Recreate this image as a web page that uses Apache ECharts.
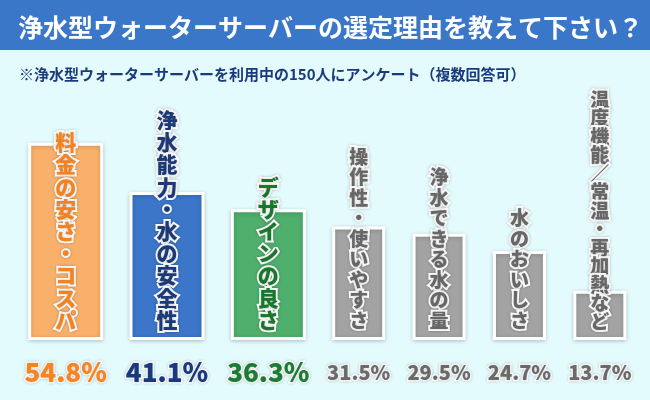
<!DOCTYPE html>
<html>
<head>
<meta charset="utf-8">
<script src="https://cdn.jsdelivr.net/npm/echarts@6/dist/echarts.min.js"></script>
<style>
html,body{margin:0;padding:0;background:#e3fbfd;}
#c{width:650px;height:400px;}
</style>
</head>
<body>
<div id="c"></div>
<script>
// ---- data ----
var titleText = '浄水型ウォーターサーバーの選定理由を教えて下さい？';
var subText = '※浄水型ウォーターサーバーを利用中の150人にアンケート（複数回答可）';
var topCategories = ['料金の安さ・コスパ', '浄水能力・水の安全性', 'デザインの良さ'];
var topValues = [54.8, 41.1, 36.3];
var otherCategories = ['操作性・使いやすさ', '浄水できる水の量', '水のおいしさ', '温度機能／常温・再加熱など'];
var otherValues = [31.5, 29.5, 24.7, 13.7];

// ---- styles ----
var FONT = '"Noto Sans CJK JP", "Noto Sans", sans-serif';
var topFill = ['#f9b06a', '#3b76c9', '#4faf6c'];
var topText = ['#f5821f', '#1c3a78', '#17782c'];
var grayFill = '#a3a3a3';
var grayText = '#676767';

function vertical(s) { return s.split('').join('\n'); }
function pct(v) { return v.toFixed(1) + '%'; }

var topData = topValues.map(function (v, i) {
  return {
    value: v,
    itemStyle: { color: topFill[i] },
    label: { color: topText[i] }
  };
});
var otherData = otherValues.map(function (v, i) {
  return {
    value: v,
    label: i === 3 ? { lineHeight: 18.5 } : {}
  };
});

var chart = echarts.init(document.getElementById('c'), null, { renderer: 'canvas' });
var barCommonItem = {
  borderColor: '#ffffff',
  borderWidth: 3,
  shadowBlur: 4,
  shadowColor: 'rgba(0,0,0,0.18)',
  shadowOffsetY: 1
};
var labelCommon = {
  show: true,
  position: 'insideBottom',
  distance: 9,
  fontFamily: FONT,
  fontWeight: 900,
  textBorderColor: '#ffffff',
  textBorderWidth: 4,
  textShadowColor: 'rgba(0,0,0,0.25)',
  textShadowBlur: 3,
  align: 'center'
};
var valStyle = {
  fontWeight: 900, fontFamily: FONT,
  textBorderColor: '#fff', textBorderWidth: 3,
  textShadowColor: 'rgba(0,0,0,0.2)', textShadowBlur: 3
};

chart.setOption({
  backgroundColor: '#e3fbfd',
  animation: false,
  graphic: [{
    type: 'rect',
    shape: { x: 0, y: 0, width: 650, height: 50 },
    style: { fill: '#3a77c8' },
    z: 0
  }],
  title: [{
    text: titleText,
    left: 13, top: 10,
    textStyle: { color: '#ffffff', fontSize: 25, fontWeight: 'bold', fontFamily: FONT }
  }, {
    text: subText,
    left: 14, top: 62,
    textStyle: { color: '#1b3a7c', fontSize: 15, fontWeight: 'bold', fontFamily: FONT }
  }],
  grid: [
    { left: 15, width: 304, top: 124, height: 216 },
    { left: 318.5, width: 321.5, top: 124, height: 216 }
  ],
  xAxis: [{
    type: 'category', gridIndex: 0, data: topCategories,
    axisLine: { show: false }, axisTick: { show: false },
    axisLabel: {
      interval: 0, hideOverlap: false,
      margin: 19,
      formatter: function (v, i) { return '{s' + i + '|' + pct(topValues[i]) + '}'; },
      rich: {
        s0: Object.assign({ color: '#f7841f', fontSize: 26 }, valStyle),
        s1: Object.assign({ color: '#173a7f', fontSize: 26 }, valStyle),
        s2: Object.assign({ color: '#1a7d34', fontSize: 26 }, valStyle)
      }
    }
  }, {
    type: 'category', gridIndex: 1, data: otherCategories,
    axisLine: { show: false }, axisTick: { show: false },
    axisLabel: Object.assign({
      interval: 0, hideOverlap: false,
      margin: 22,
      formatter: function (v, i) { return pct(otherValues[i]); },
      color: '#6a6a6a', fontSize: 20
    }, valStyle)
  }],
  yAxis: [
    { type: 'value', gridIndex: 0, min: 0, max: 60, show: false, splitLine: { show: false } },
    { type: 'value', gridIndex: 1, min: 0, max: 60, show: false, splitLine: { show: false } }
  ],
  series: [{
    type: 'bar', xAxisIndex: 0, yAxisIndex: 0,
    barWidth: 75,
    data: topData,
    itemStyle: barCommonItem,
    label: Object.assign({}, labelCommon, {
      fontSize: 21, lineHeight: 22.2,
      formatter: function (p) { return vertical(topCategories[p.dataIndex]); }
    })
  }, {
    type: 'bar', xAxisIndex: 1, yAxisIndex: 1,
    barWidth: 53,
    data: otherData,
    itemStyle: Object.assign({}, barCommonItem, { color: grayFill }),
    label: Object.assign({}, labelCommon, {
      fontSize: 19, lineHeight: 20.5, color: grayText,
      formatter: function (p) { return vertical(otherCategories[p.dataIndex]); }
    })
  }]
});
</script>
</body>
</html>
